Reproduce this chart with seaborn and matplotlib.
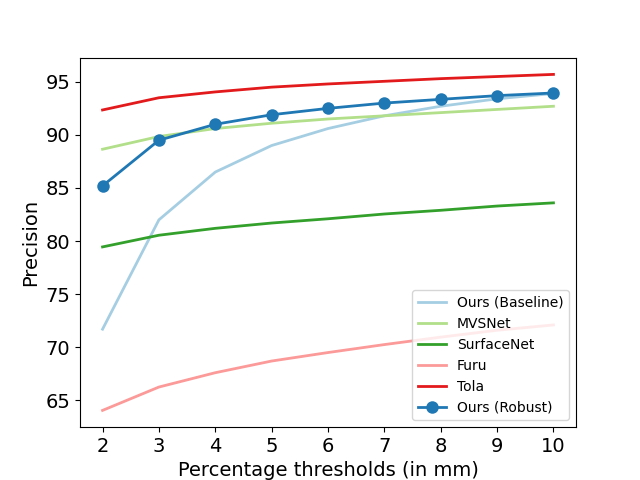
import matplotlib
matplotlib.use("Agg")
import matplotlib.pyplot as plt
import seaborn as sns
import pandas as pd

thresholds = [2, 3, 4, 5, 6, 7, 8, 9, 10]
ours_baseline = [71.7, 82.0, 86.5, 89.0, 90.6, 91.8, 92.7, 93.4, 93.9]
mvsnet = [88.65, 89.85, 90.6, 91.1, 91.5, 91.8, 92.1, 92.4, 92.7]
surfacenet = [79.45, 80.55, 81.2, 81.7, 82.1, 82.55, 82.9, 83.3, 83.6]
furu = [64.05, 66.25, 67.6, 68.7, 69.5, 70.25, 70.95, 71.6, 72.1]
tola = [92.35, 93.5, 94.05, 94.5, 94.8, 95.05, 95.3, 95.5, 95.7]
ours_robust = [85.2, 89.5, 91.0, 91.9, 92.5, 93.0, 93.35, 93.7, 93.95]

series_names = ["Ours (Baseline)", "MVSNet", "SurfaceNet", "Furu", "Tola", "Ours (Robust)"]
series_values = [ours_baseline, mvsnet, surfacenet, furu, tola, ours_robust]

plt.rcParams['font.family'] = ['DejaVu Sans']
fig, ax = plt.subplots(figsize=(6.4, 4.8), dpi=100)
pal = sns.color_palette("Paired", 6)
colors = [pal[0], pal[2], pal[3], pal[4], pal[5], pal[1]]

for name, vals, c in zip(series_names, series_values, colors):
    df = pd.DataFrame({"x": thresholds, "y": vals})
    if name == "Ours (Robust)":
        sns.lineplot(data=df, x="x", y="y", ax=ax, color=c, linewidth=2,
                     marker="o", markersize=9, markeredgewidth=0, label=name)
    else:
        sns.lineplot(data=df, x="x", y="y", ax=ax, color=c, linewidth=2, label=name)

ax.set_xticks(thresholds)
ax.tick_params(labelsize=14)
ax.set_xlabel("Percentage thresholds (in mm)", fontsize=14)
ax.set_ylabel("Precision", fontsize=14)
ax.legend(loc="lower right", fontsize=10)
fig.savefig("out.png", dpi=100)
